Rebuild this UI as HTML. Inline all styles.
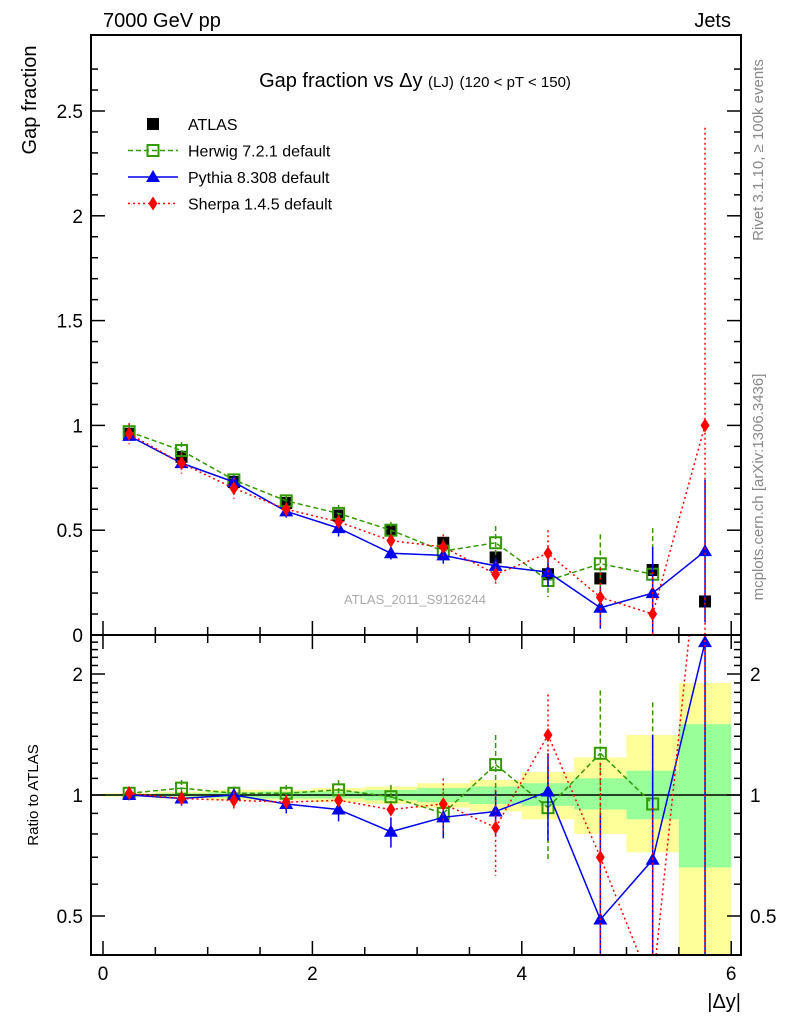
<!DOCTYPE html>
<html style="overflow:hidden;margin:0;width:786px;height:1024px"><head><meta charset="utf-8"><style>
html,body{margin:0;padding:0;background:#fff;width:786px;height:1024px;overflow:hidden;font-family:"Liberation Sans",sans-serif}
svg{display:block;position:absolute;left:0;top:0}
</style></head><body>
<svg id="chart" width="786" height="1024" xmlns="http://www.w3.org/2000/svg" font-family="Liberation Sans, sans-serif">
<defs>
<clipPath id="cm"><rect x="91" y="35" width="650" height="600"/></clipPath>
<clipPath id="cr"><rect x="91" y="635" width="650" height="320"/></clipPath>
</defs>
<g id="bands" clip-path="url(#cr)"></g>
<g id="marks"></g>
<rect x="91" y="35" width="650" height="600" fill="none" stroke="#000" stroke-width="2"/>
<rect x="91" y="635" width="650" height="320" fill="none" stroke="#000" stroke-width="2"/>
<g id="axes"></g>
<text x="103" y="27" font-size="20">7000 GeV pp</text>
<text x="731" y="27" font-size="20" text-anchor="end">Jets</text>
<text x="415" y="87" font-size="20" text-anchor="middle">Gap fraction vs Δy <tspan font-size="15">(LJ)</tspan> <tspan font-size="15">(120 &lt; pT &lt; 150)</tspan></text>
<text transform="translate(36,100) rotate(-90)" font-size="20" text-anchor="middle">Gap fraction</text>
<text transform="translate(38,795) rotate(-90)" font-size="15" text-anchor="middle">Ratio to ATLAS</text>
<text x="741" y="1008" font-size="20" text-anchor="end">|Δy|</text>
<text transform="translate(763,150) rotate(-90)" font-size="15" fill="#888" text-anchor="middle">Rivet 3.1.10, ≥ 100k events</text>
<text transform="translate(763,487) rotate(-90)" font-size="15" fill="#888" text-anchor="middle">mcplots.cern.ch [arXiv:1306.3436]</text>
<text x="415" y="604" font-size="13" fill="#aaa" text-anchor="middle">ATLAS_2011_S9126244</text>
<g id="legend"></g>
</svg>
<script>
const xs=[0.25,0.75,1.25,1.75,2.25,2.75,3.25,3.75,4.25,4.75,5.25,5.75];
const atlas=[0.96,0.85,0.73,0.63,0.57,0.50,0.44,0.37,0.29,0.27,0.31,0.16];
const atlasErr=[0.01,0.01,0.01,0.01,0.01,0.01,0.01,0.01,0.02,0.02,0.02,0.02];
const herwig=[0.97,0.88,0.74,0.64,0.58,0.50,0.40,0.44,0.26,0.34,0.29];
const herwigErr=[0.04,0.04,0.03,0.03,0.04,0.04,0.05,0.08,0.08,0.14,0.22];
const pythia=[0.95,0.82,0.73,0.59,0.51,0.39,0.38,0.33,0.30,0.13,0.20,0.40];
const pythiaErr=[0.02,0.03,0.02,0.03,0.04,0.03,0.04,0.04,0.07,0.10,0.22,0.34];
const sherpa=[0.96,0.82,0.70,0.60,0.54,0.45,0.42,0.29,0.39,0.18,0.10,1.00];
const sherpaErr=[0.05,0.05,0.05,0.03,0.03,0.03,0.06,0.06,0.11,0.14,0.20,1.42];
const herwigR=[1.01,1.04,1.01,1.01,1.03,0.99,0.90,1.19,0.93,1.27,0.95];
const herwigRErr=[0.04,0.05,0.04,0.05,0.06,0.07,0.12,0.22,0.25,0.55,0.75];
const pythiaR=[1.00,0.98,1.00,0.95,0.92,0.81,0.88,0.91,1.02,0.49,0.69,2.40];
const pythiaRErr=[0.03,0.04,0.03,0.05,0.06,0.07,0.10,0.12,0.25,0.40,0.72,2.0];
const sherpaR=[1.01,0.98,0.97,0.96,0.97,0.92,0.95,0.83,1.41,0.70,0.33,6.0];
const sherpaRErr=[0.04,0.04,0.05,0.04,0.03,0.03,0.15,0.20,0.37,0.50,0.6,8.0];
const bandYLo=[0.99,0.98,0.97,0.97,0.96,0.95,0.93,0.91,0.87,0.80,0.72,0.35];
const bandYHi=[1.01,1.02,1.03,1.03,1.04,1.05,1.07,1.09,1.14,1.24,1.41,1.90];
const bandGLo=[0.995,0.99,0.985,0.98,0.98,0.97,0.96,0.95,0.94,0.92,0.87,0.66];
const bandGHi=[1.005,1.01,1.015,1.02,1.02,1.03,1.04,1.05,1.07,1.10,1.15,1.50];
const mainTicks=[0,0.5,1,1.5,2,2.5];
const mainTickLabels=["0","0.5","1","1.5","2","2.5"];
const xTicks=[0,2,4,6];
const ratioTicks=[0.5,1,2];

const NS="http://www.w3.org/2000/svg";
const clamp=(v,a,b)=>Math.min(b,Math.max(a,v));
const X=v=>103+104.7*v;
const Y=v=>clamp(635-209.6*v,30,640);
const R=r=>clamp(795-121*Math.log2(Math.max(r,0.01)),630,960);
function mk(tag,attrs,parent){const e=document.createElementNS(NS,tag);for(const k in attrs)e.setAttribute(k,attrs[k]);parent.appendChild(e);return e;}
const marks=document.getElementById('marks');
const bands=document.getElementById('bands');
const axes=document.getElementById('axes');
const gm=mk('g',{'clip-path':'url(#cm)'},marks);


const gr=mk('g',{'clip-path':'url(#cr)'},marks);



xs.forEach((c,i)=>{
  const x0=X(c-0.25),w=X(c+0.25)-x0;
  const y=mk('rect',{x:x0,y:R(bandYHi[i]),width:w,height:R(bandYLo[i])-R(bandYHi[i]),fill:'#ffff99'},bands);
  
  
  const g=mk('rect',{x:x0,y:R(bandGHi[i]),width:w,height:R(bandGLo[i])-R(bandGHi[i]),fill:'#99ff99'},bands);
  
  
});
const one=mk('line',{x1:91,x2:741,y1:R(1),y2:R(1),stroke:'#000','stroke-width':1.5},gr);



function marker(g,type,color,cx,cy){
  let e;
  if(type==='sq') e=mk('rect',{x:cx-5.5,y:cy-5.5,width:11,height:11,fill:'#fff','fill-opacity':0,stroke:color,'stroke-width':2},g);
  else if(type==='fsq') e=mk('rect',{x:cx-6,y:cy-6,width:12,height:12,fill:color},g);
  else if(type==='tri') e=mk('polygon',{points:`${cx},${cy-7} ${cx-7},${cy+5} ${cx+7},${cy+5}`,fill:color},g);
  else e=mk('polygon',{points:`${cx},${cy-7} ${cx-4.5},${cy} ${cx},${cy+7} ${cx+4.5},${cy}`,fill:color},g);
  return e;
}
function series(g,name,vals,errs,color,dash,type,yf,line){
  const sg=mk('g',{},g);
  
  
  if(line){
    const pts=vals.map((v,i)=>X(xs[i])+','+(795-121*Math.log2(1)===0?0:0+yf(v))).join(' ');
    const pl=mk('polyline',{points:pts,fill:'none',stroke:color,'stroke-width':1.5,'stroke-dasharray':dash},sg);
    
    
  }
  vals.forEach((v,i)=>{
    const cx=X(xs[i]);
    const el=mk('line',{x1:cx,x2:cx,y1:yf(v+errs[i]),y2:yf(Math.max(v-errs[i],0.001)),stroke:color,'stroke-width':1.5,'stroke-dasharray':dash},sg);
    
    
    const m=marker(sg,type,color,cx,yf(v));
    
    
  });
}
// unclamped ratio mapping for lines so slopes stay correct, clamped within clip margin
const RL=r=>clamp(795-121*Math.log2(Math.max(r,0.01)),560,1000);
function seriesRatio(g,name,vals,errs,color,dash,type){
  const sg=mk('g',{},g);
  
  
  const pts=[];
  for(let i=0;i<vals.length;i++){
    const x=X(xs[i]),y=795-121*Math.log2(Math.max(vals[i],0.01));
    if(i>0){
      const px=X(xs[i-1]),py=795-121*Math.log2(Math.max(vals[i-1],0.01));
      // clip segment to panel vertically
      let x1=px,y1=py,x2=x,y2=y;
      const lim=(yy)=>clamp(yy,635,955);
      const cy1=lim(y1),cy2=lim(y2);
      if(y2!==y1){x1=px+(x-px)*(cy1-py)/(y-py);x2=px+(x-px)*(cy2-py)/(y-py);}
      if(!(cy1===cy2&&(cy1===635||cy1===955))){
        const seg=mk('line',{x1:x1,y1:cy1,x2:x2,y2:cy2,stroke:color,'stroke-width':1.5,'stroke-dasharray':dash},sg);
        
        
      }
    }
  }
  vals.forEach((v,i)=>{
    const cx=X(xs[i]);
    const el=mk('line',{x1:cx,x2:cx,y1:R(v+errs[i]),y2:R(Math.max(v-errs[i],0.001)),stroke:color,'stroke-width':1.5,'stroke-dasharray':dash},sg);
    
    
    const yv=795-121*Math.log2(Math.max(v,0.01));
    if(yv>=628&&yv<=962){
      const m=marker(sg,type,color,cx,yv);
      
      
    }
  });
}
series(gm,'atlas',atlas,atlasErr,'#000','','fsq',Y,false);
series(gm,'herwig',herwig,herwigErr,'#339900','5,3','sq',Y,true);
series(gm,'pythia',pythia,pythiaErr,'#0000ee','','tri',Y,true);
series(gm,'sherpa',sherpa,sherpaErr,'#ff0000','2,3','dia',Y,true);
seriesRatio(gr,'herwig-ratio',herwigR,herwigRErr,'#339900','5,3','sq');
seriesRatio(gr,'pythia-ratio',pythiaR,pythiaRErr,'#0000ee','','tri');
seriesRatio(gr,'sherpa-ratio',sherpaR,sherpaRErr,'#ff0000','2,3','dia');

for(let v=0;v<=2.8;v+=0.1){
  const y=635-209.6*v;const major=Math.abs(v*2-Math.round(v*2))<1e-6;const l=major?14:7;
  mk('line',{x1:91,x2:91+l,y1:y,y2:y,stroke:'#000','stroke-width':1.5},axes);
  mk('line',{x1:741-l,x2:741,y1:y,y2:y,stroke:'#000','stroke-width':1.5},axes);
}
mainTicks.forEach((v,i)=>{
  const t=mk('text',{x:83,y:Y(v)+7,'font-size':19,'text-anchor':'end'},axes);
  t.textContent=mainTickLabels[i];
  
  
});
for(let v=0;v<=6.05;v+=0.5){
  const x=X(v);const major=Math.abs(v-Math.round(v))<1e-6&&Math.round(v)%2===0;const l=major?14:8;
  mk('line',{x1:x,x2:x,y1:635,y2:635-l,stroke:'#000','stroke-width':1.5},axes);
  mk('line',{x1:x,x2:x,y1:635,y2:635+l,stroke:'#000','stroke-width':1.5},axes);
  mk('line',{x1:x,x2:x,y1:955,y2:955-l,stroke:'#000','stroke-width':1.5},axes);
}
xTicks.forEach(v=>{
  const t=mk('text',{x:X(v),y:980,'font-size':19,'text-anchor':'middle'},axes);
  t.textContent=String(v);
  
  
});
[0.4,0.5,0.6,0.7,0.8,0.9,1,1.1,1.2,1.3,1.4,1.5,1.6,1.7,1.8,1.9,2,2.1,2.2,2.3,2.4].forEach(r=>{
  const y=R(r);const major=ratioTicks.includes(r);const l=major?14:7;
  mk('line',{x1:91,x2:91+l,y1:y,y2:y,stroke:'#000','stroke-width':1.5},axes);
  mk('line',{x1:741-l,x2:741,y1:y,y2:y,stroke:'#000','stroke-width':1.5},axes);
});
ratioTicks.forEach(r=>{
  const t=mk('text',{x:83,y:R(r)+7,'font-size':19,'text-anchor':'end'},axes);
  t.textContent=String(r);
  
  
  const t2=mk('text',{x:750,y:R(r)+7,'font-size':19},axes);
  t2.textContent=String(r);
  
  
});

const leg=document.getElementById('legend');
const entries=[['ATLAS','#000','','fsq',false],['Herwig 7.2.1 default','#339900','5,3','sq',true],['Pythia 8.308 default','#0000ee','','tri',true],['Sherpa 1.4.5 default','#ff0000','2,3','dia',true]];
entries.forEach((e,i)=>{
  const y=124+26.5*i;
  const g=mk('g',{},leg);
  
  
  if(e[4]) mk('line',{x1:128,x2:178,y1:y,y2:y,stroke:e[1],'stroke-width':1.5,'stroke-dasharray':e[2]},g);
  marker(g,e[3],e[1],153,y);
  const t=mk('text',{x:188,y:y+6,'font-size':16},g);
  t.textContent=e[0];
});
</script>
</body></html>
